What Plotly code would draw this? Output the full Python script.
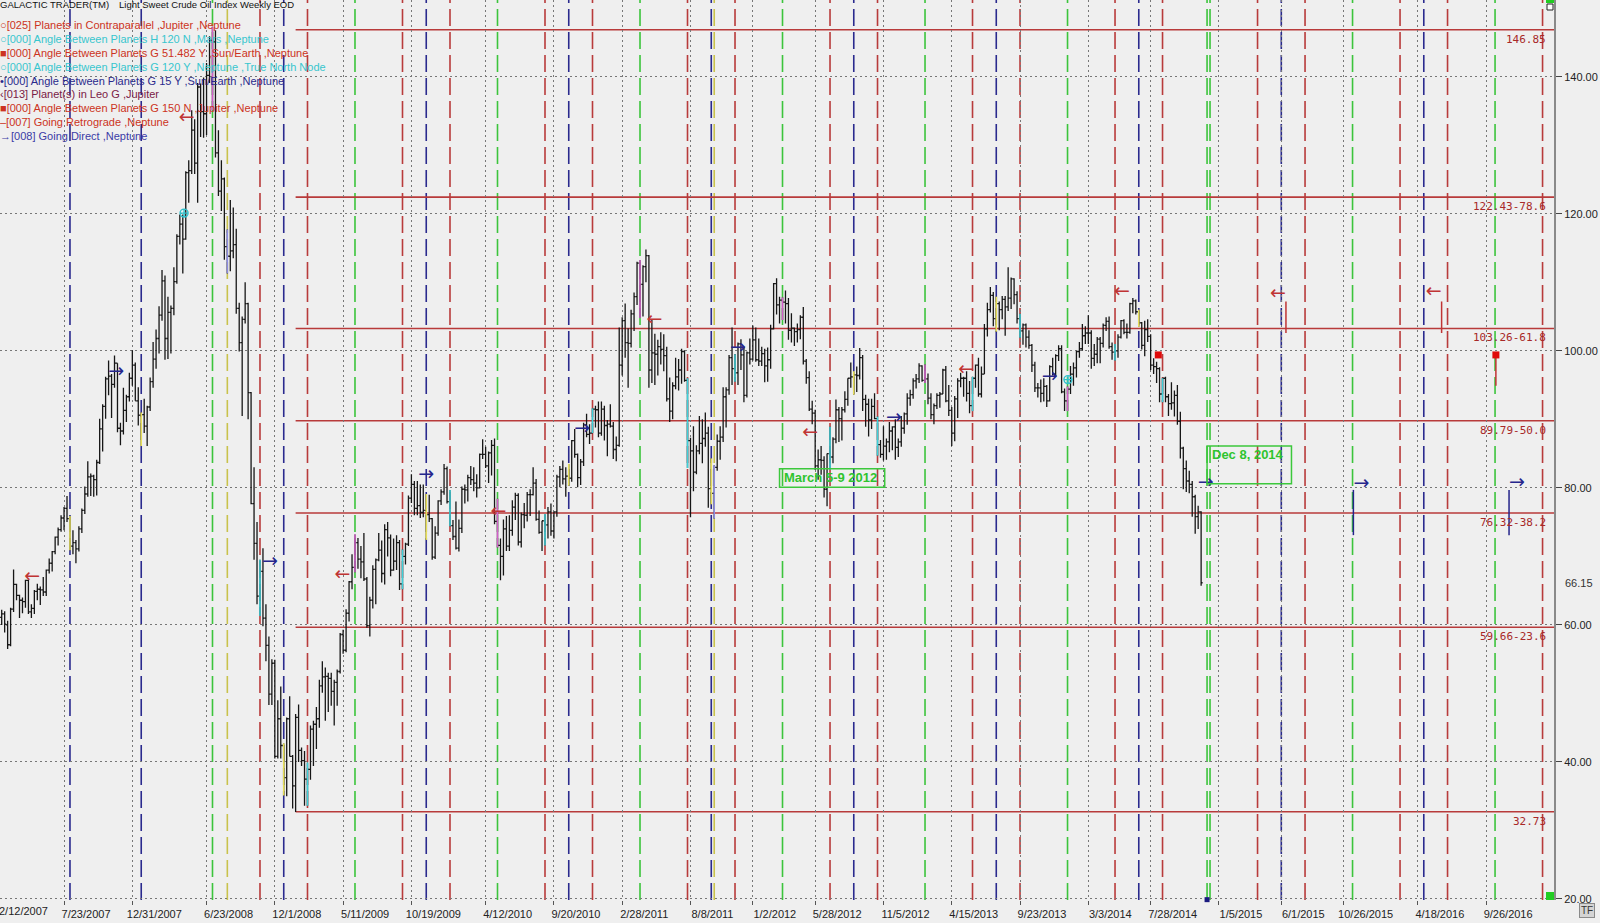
import pandas as pd
import plotly.graph_objects as go

# weekly bars, first week starts 2007-02-19
week_start = "2007-02-19"

opens = [
    59.4, 61.1, 61.6, 60.0, 57.1, 62.3, 65.9, 64.3, 63.6, 63.4, 66.5, 61.9, 62.4, 64.9, 65.2, 65.1, 64.8, 68.0, 69.0, 70.7, 72.8, 73.9, 75.6, 77.0, 75.5, 71.5, 72.0, 71.1, 74.0, 76.7, 79.1, 81.6, 81.7, 81.2, 83.7, 88.6, 91.9, 95.9, 96.3, 95.1, 98.2, 88.7, 88.3, 91.3, 93.3,
    96.0, 97.9, 92.7, 90.6, 90.7, 89.0, 91.8, 95.5, 98.8, 101.8, 105.2, 110.2, 101.8, 105.6, 106.2, 110.1, 116.7, 118.5, 116.3, 126.0, 126.3, 132.2, 127.4, 138.5, 134.9, 134.6, 140.2, 145.3, 145.1, 128.9, 123.3, 125.1, 115.2, 113.8, 114.6, 115.5, 106.2, 101.2, 104.6, 106.9, 93.9, 77.7, 71.9, 64.2, 67.8, 61.0, 57.0, 49.9, 54.4, 40.8, 46.3, 42.4,
    37.7, 46.3, 40.8, 36.5, 46.5, 41.7, 40.2, 37.5, 38.9, 44.8, 45.5, 46.3, 51.1, 52.4, 52.5, 52.2, 50.3, 51.6, 53.2, 58.6, 56.3, 61.7, 66.3, 68.4, 72.0, 69.6, 69.2, 66.7, 59.9, 63.6, 68.1, 69.5, 70.9, 67.5, 73.9, 72.7, 68.0, 69.3, 72.0, 66.0, 70.0, 71.8, 78.5, 80.5, 77.0, 77.4, 76.4, 76.7, 76.1, 75.5, 69.9, 73.4, 78.1,
    79.4, 82.8, 78.0, 74.5, 72.9, 71.2, 74.1, 79.8, 79.7, 81.5, 81.2, 80.7, 80.0, 84.9, 84.9, 83.2, 85.1, 86.2, 75.1, 71.6, 70.0, 74.0, 71.5, 73.8, 77.2, 78.9, 72.1, 76.1, 76.0, 79.0, 79.0, 80.7, 75.4, 73.5, 75.2, 74.6, 76.5, 73.7, 76.5, 81.6, 82.7, 81.3, 81.7, 81.4, 86.9, 84.9, 81.5, 83.8, 89.2, 87.8, 88.0, 91.5,
    91.4, 88.0, 91.5, 89.1, 89.3, 89.0, 85.6, 86.2, 97.9, 104.4, 101.2, 101.1, 105.4, 107.9, 112.8, 109.7, 112.3, 113.9, 97.2, 99.7, 99.5, 100.6, 100.2, 99.3, 93.0, 91.2, 94.9, 96.2, 97.2, 99.9, 95.7, 86.9, 85.4, 82.3, 85.4, 86.5, 87.2, 88.0, 79.9, 79.2, 83.0, 86.8, 87.4, 93.3, 94.3, 99.0, 97.4, 96.8, 101.0, 99.4, 93.5, 99.7,
    98.8, 101.6, 98.7, 98.5, 99.6, 97.8, 98.7, 103.2, 109.8, 106.7, 107.4, 107.1, 106.9, 103.0, 103.3, 102.8, 103.1, 104.9, 98.5, 96.1, 91.5, 90.9, 83.2, 84.1, 84.0, 79.8, 85.0, 84.5, 87.1, 91.4, 90.1, 91.4, 92.9, 96.0, 96.2, 96.5, 96.4, 99.0, 92.9, 92.2, 89.9, 91.9, 90.1, 86.3, 84.9, 86.1, 86.7, 88.3, 88.9, 85.9, 86.7, 88.7,
    90.8, 93.1, 93.6, 95.6, 95.9, 97.8, 95.7, 95.9, 93.1, 90.7, 92.0, 93.5, 93.7, 97.2, 92.7, 91.3, 88.0, 93.0, 95.6, 96.0, 96.0, 93.8, 92.0, 96.0, 97.9, 93.7, 96.6, 103.2, 106.0, 108.1, 104.7, 106.9, 106.0, 107.5, 106.4, 107.7, 110.5, 108.2, 104.7, 102.9, 103.8, 102.0, 100.8, 97.9, 94.6, 94.6, 93.8, 94.8, 92.7, 97.7, 96.6, 99.3,
    100.3, 94.0, 92.7, 94.4, 96.6, 97.5, 99.9, 100.3, 102.2, 102.6, 102.6, 98.9, 99.5, 101.7, 101.1, 103.7, 104.3, 100.6, 99.8, 100.0, 102.0, 104.4, 102.7, 102.7, 106.9, 107.3, 105.7, 104.1, 100.8, 103.1, 102.1, 97.9, 97.7, 97.4, 93.7, 96.0, 93.3, 92.3, 92.4, 93.5, 89.7, 85.8, 82.8, 81.0, 80.5, 78.7, 75.8, 76.5,
]
highs = [
    61.7, 62.2, 62.0, 60.6, 62.5, 68.1, 66.0, 64.4, 64.0, 66.6, 66.6, 63.0, 65.1, 66.0, 65.6, 67.0, 68.1, 69.7, 70.8, 72.9, 74.2, 76.0, 77.2, 78.8, 75.9, 73.8, 72.4, 74.4, 77.0, 80.2, 83.9, 82.1, 81.9, 84.1, 90.1, 92.2, 96.2, 98.6, 96.6, 99.3, 98.2, 89.5, 94.6, 93.6, 96.8,
    100.1, 98.3, 94.7, 91.0, 93.0, 92.0, 96.1, 101.3, 103.1, 106.5, 111.8, 111.0, 107.9, 106.6, 112.2, 117.0, 119.9, 119.9, 126.2, 127.8, 135.1, 133.8, 139.1, 139.0, 139.9, 142.0, 145.9, 147.3, 146.8, 132.2, 127.8, 125.3, 117.7, 122.0, 120.9, 117.8, 107.0, 105.0, 110.0, 107.0, 94.0, 83.0, 75.0, 69.5, 71.2, 63.0, 58.3, 55.0, 54.9, 49.0, 51.0, 42.7,
    46.5, 49.6, 41.0, 47.0, 48.4, 42.1, 41.6, 39.9, 45.3, 46.0, 48.0, 52.0, 54.7, 53.8, 53.0, 53.0, 52.0, 53.5, 58.8, 59.3, 62.3, 66.4, 70.3, 73.2, 72.7, 71.5, 73.4, 67.0, 64.1, 68.7, 69.7, 73.4, 72.3, 74.7, 75.0, 73.2, 72.6, 73.1, 72.4, 71.0, 72.0, 78.9, 82.0, 81.0, 81.0, 80.5, 80.5, 79.1, 79.0, 75.6, 74.4, 78.2, 79.8,
    83.5, 83.1, 79.7, 75.3, 78.0, 75.4, 80.2, 80.5, 81.9, 83.2, 83.0, 82.0, 85.0, 87.1, 86.0, 85.3, 87.0, 87.2, 78.4, 72.6, 75.4, 75.9, 76.0, 78.2, 79.3, 79.2, 76.4, 77.8, 79.4, 79.8, 83.0, 81.3, 76.7, 75.2, 76.2, 77.2, 77.7, 76.5, 81.9, 83.2, 84.0, 83.0, 83.5, 87.0, 88.6, 85.0, 84.2, 89.5, 90.8, 89.3, 91.6, 92.0,
    92.6, 92.6, 92.0, 89.9, 92.2, 89.6, 87.5, 103.4, 104.9, 106.9, 103.3, 106.0, 108.5, 113.0, 113.2, 112.5, 114.8, 114.0, 104.6, 102.5, 101.6, 102.7, 102.4, 100.6, 96.1, 95.4, 99.0, 98.8, 100.3, 100.1, 96.0, 87.3, 89.0, 86.2, 90.5, 90.0, 91.0, 88.9, 84.3, 83.3, 87.8, 89.0, 94.7, 94.7, 99.4, 103.4, 99.5, 101.2, 101.7, 100.6, 99.9, 101.8,
    103.7, 103.4, 101.8, 100.6, 100.3, 100.5, 103.8, 109.9, 110.6, 107.9, 107.8, 108.8, 107.7, 105.5, 103.4, 104.0, 105.2, 106.4, 98.8, 97.0, 92.7, 91.4, 85.6, 86.1, 84.6, 85.0, 88.9, 87.4, 92.9, 91.8, 91.8, 94.1, 96.0, 98.3, 97.0, 97.7, 100.4, 99.4, 93.6, 93.0, 93.0, 93.8, 90.4, 87.0, 89.0, 87.2, 89.6, 89.0, 90.0, 87.2, 90.5, 91.0,
    93.8, 94.3, 96.0, 96.6, 98.2, 97.9, 98.0, 96.7, 93.8, 92.3, 93.8, 94.0, 97.4, 97.8, 95.0, 91.8, 93.4, 96.0, 96.8, 96.2, 97.0, 95.6, 96.2, 98.0, 99.0, 97.7, 103.9, 107.0, 109.3, 108.6, 107.9, 107.2, 108.0, 108.0, 112.2, 110.7, 110.6, 108.7, 105.4, 104.0, 104.0, 103.0, 101.0, 98.4, 95.3, 95.8, 96.0, 95.0, 97.9, 99.0, 99.5, 100.8,
    100.8, 94.5, 94.8, 97.8, 98.3, 100.0, 101.3, 103.9, 103.6, 105.2, 103.0, 101.0, 102.0, 102.0, 104.0, 104.9, 105.0, 101.2, 101.0, 102.4, 104.5, 104.6, 104.0, 107.0, 107.7, 107.5, 106.0, 104.2, 104.4, 104.6, 102.4, 98.9, 98.4, 97.6, 96.0, 96.2, 93.7, 95.4, 94.2, 95.0, 91.1, 86.0, 84.0, 82.5, 81.0, 79.0, 77.4, 76.6,
]
lows = [
    57.8, 60.0, 58.9, 56.5, 56.9, 61.9, 63.6, 61.0, 61.7, 62.5, 61.6, 61.0, 61.6, 63.6, 62.9, 64.2, 64.2, 67.5, 67.8, 70.3, 71.6, 73.6, 73.8, 75.0, 70.9, 70.3, 69.0, 70.7, 73.4, 76.2, 78.7, 78.8, 78.7, 78.9, 83.5, 85.3, 90.1, 93.5, 90.2, 94.6, 88.1, 86.2, 87.8, 89.6, 92.6,
    94.9, 92.7, 89.1, 86.1, 88.0, 86.1, 91.2, 94.6, 97.4, 99.6, 104.4, 98.7, 98.8, 99.6, 105.2, 109.8, 115.5, 111.3, 116.2, 121.6, 125.8, 125.8, 121.6, 131.2, 131.1, 131.5, 139.1, 135.1, 128.2, 122.6, 120.4, 113.3, 111.3, 111.6, 113.5, 105.4, 99.9, 90.5, 104.0, 90.0, 77.6, 69.5, 63.0, 61.3, 59.8, 54.7, 48.3, 48.3, 40.5, 40.5, 40.5, 35.1,
    35.0, 40.8, 33.2, 32.7, 40.0, 39.4, 33.6, 33.6, 37.4, 39.4, 41.9, 45.0, 50.1, 46.0, 47.3, 48.2, 45.3, 48.2, 52.9, 55.8, 56.0, 60.5, 65.2, 67.7, 68.2, 66.8, 66.4, 59.6, 58.3, 62.4, 63.0, 69.3, 66.2, 65.9, 70.0, 67.1, 67.9, 68.0, 65.1, 65.2, 68.8, 71.5, 77.8, 76.0, 76.0, 75.6, 75.7, 72.4, 75.0, 69.5, 69.6, 73.0, 77.5,
    79.0, 77.7, 74.4, 72.4, 71.0, 70.7, 73.4, 77.7, 78.0, 80.4, 79.5, 78.6, 79.9, 84.2, 82.9, 80.7, 81.8, 74.7, 71.3, 66.5, 67.2, 70.8, 70.8, 73.0, 75.3, 71.6, 71.3, 74.1, 75.1, 75.9, 78.9, 75.2, 73.3, 70.8, 71.6, 72.6, 73.0, 72.6, 75.8, 80.1, 80.5, 78.7, 80.3, 80.9, 84.4, 80.1, 80.4, 83.2, 87.4, 86.4, 88.0, 88.8,
    87.4, 87.6, 86.9, 84.6, 88.8, 84.2, 83.9, 86.0, 96.4, 99.0, 94.6, 100.5, 102.9, 106.7, 104.8, 105.0, 110.0, 94.6, 95.3, 95.0, 96.4, 98.0, 97.0, 92.6, 89.6, 90.0, 94.4, 94.2, 95.2, 95.5, 82.9, 75.7, 79.5, 82.0, 84.9, 83.6, 86.0, 77.1, 77.6, 75.5, 82.5, 84.1, 86.7, 88.8, 93.6, 95.0, 95.5, 95.0, 97.2, 92.5, 93.2, 98.0,
    98.6, 98.4, 97.8, 97.8, 95.4, 95.5, 97.4, 103.1, 105.3, 104.0, 104.5, 104.0, 101.6, 101.2, 100.7, 101.2, 101.7, 98.0, 95.2, 91.2, 89.3, 82.6, 81.2, 81.9, 78.6, 77.3, 82.6, 83.6, 86.5, 86.7, 86.9, 91.0, 92.0, 94.6, 93.6, 94.0, 95.8, 91.2, 88.9, 87.5, 88.6, 90.0, 84.7, 84.4, 84.0, 84.1, 85.2, 85.5, 84.1, 84.5, 86.0, 87.9,
    89.2, 92.0, 93.0, 94.5, 95.3, 95.5, 95.3, 92.2, 90.0, 89.3, 91.5, 91.7, 93.7, 92.5, 90.5, 86.1, 86.8, 90.2, 94.7, 93.3, 92.6, 90.9, 91.2, 94.6, 93.3, 93.2, 96.6, 102.1, 105.6, 103.6, 102.8, 103.0, 104.6, 102.2, 105.8, 106.1, 106.8, 104.0, 101.9, 100.9, 100.5, 100.3, 96.9, 94.0, 93.2, 92.5, 92.6, 91.8, 92.6, 96.4, 96.2, 98.5,
    93.8, 91.2, 91.2, 93.7, 94.9, 96.1, 99.0, 100.0, 101.0, 101.0, 97.4, 97.8, 98.2, 98.2, 100.5, 102.9, 100.3, 98.7, 98.6, 99.0, 101.8, 102.4, 101.8, 102.5, 105.5, 105.3, 103.5, 100.2, 99.2, 101.3, 97.2, 96.6, 95.3, 92.5, 92.5, 92.5, 90.5, 91.4, 90.4, 89.2, 84.3, 79.8, 79.4, 79.2, 75.8, 73.3, 74.0, 65.7,
]
closes = [
    61.1, 61.6, 60.1, 57.1, 62.3, 65.9, 64.3, 63.6, 63.4, 66.5, 61.9, 62.4, 64.9, 65.2, 65.1, 64.8, 68.0, 69.0, 70.7, 72.8, 73.9, 75.6, 77.0, 75.5, 71.5, 72.0, 71.1, 74.0, 76.7, 79.1, 81.6, 81.7, 81.2, 83.7, 88.6, 91.9, 95.9, 96.3, 95.1, 98.2, 88.7, 88.3, 91.3, 93.3, 96.0,
    97.9, 92.7, 90.6, 90.7, 89.0, 91.8, 95.5, 98.8, 101.8, 105.2, 110.2, 101.8, 105.6, 106.2, 110.1, 116.7, 118.5, 116.3, 126.0, 126.3, 132.2, 127.4, 138.5, 134.9, 134.6, 140.2, 145.3, 145.1, 128.9, 123.3, 125.1, 115.2, 113.8, 114.6, 115.5, 106.2, 101.2, 104.6, 106.9, 93.9, 77.7, 71.9, 64.2, 67.8, 61.0, 57.0, 49.9, 54.4, 40.8, 46.3, 42.4, 37.7,
    46.3, 40.8, 36.5, 46.5, 41.7, 40.2, 37.5, 38.9, 44.8, 45.5, 46.3, 51.1, 52.4, 52.5, 52.2, 50.3, 51.6, 53.2, 58.6, 56.3, 61.7, 66.3, 68.4, 72.0, 69.6, 69.2, 66.7, 59.9, 63.6, 68.1, 69.5, 70.9, 67.5, 73.9, 72.7, 68.0, 69.3, 72.0, 66.0, 70.0, 71.8, 78.5, 80.5, 77.0, 77.4, 76.4, 76.7, 76.1, 75.5, 69.9, 73.4, 78.1, 79.4,
    82.8, 78.0, 74.5, 72.9, 71.2, 74.1, 79.8, 79.7, 81.5, 81.2, 80.7, 80.0, 84.9, 84.9, 83.2, 85.1, 86.2, 75.1, 71.6, 70.0, 74.0, 71.5, 73.8, 77.2, 78.9, 72.1, 76.1, 76.0, 79.0, 79.0, 80.7, 75.4, 73.5, 75.2, 74.6, 76.5, 73.7, 76.5, 81.6, 82.7, 81.3, 81.7, 81.4, 86.9, 84.9, 81.5, 83.8, 89.2, 87.8, 88.0, 91.5, 91.4,
    88.0, 91.5, 89.1, 89.3, 89.0, 85.6, 86.2, 97.9, 104.4, 101.2, 101.1, 105.4, 107.9, 112.8, 109.7, 112.3, 113.9, 97.2, 99.7, 99.5, 100.6, 100.2, 99.3, 93.0, 91.2, 94.9, 96.2, 97.2, 99.9, 95.7, 86.9, 85.4, 82.3, 85.4, 86.5, 87.2, 88.0, 79.9, 79.2, 83.0, 86.8, 87.4, 93.3, 94.3, 99.0, 97.4, 96.8, 101.0, 99.4, 93.5, 99.7, 98.8,
    101.6, 98.7, 98.5, 99.6, 97.8, 98.7, 103.2, 109.8, 106.7, 107.4, 107.1, 106.9, 103.0, 103.3, 102.8, 103.1, 104.9, 98.5, 96.1, 91.5, 90.9, 83.2, 84.1, 84.0, 79.8, 85.0, 84.5, 87.1, 91.4, 90.1, 91.4, 92.9, 96.0, 96.2, 96.5, 96.4, 99.0, 92.9, 92.2, 89.9, 91.9, 90.1, 86.3, 84.9, 86.1, 86.7, 88.3, 88.9, 85.9, 86.7, 88.7, 90.8,
    93.1, 93.6, 95.6, 95.9, 97.8, 95.7, 95.9, 93.1, 90.7, 92.0, 93.5, 93.7, 97.2, 92.7, 91.3, 88.0, 93.0, 95.6, 96.0, 96.0, 93.8, 92.0, 96.0, 97.9, 93.7, 96.6, 103.2, 106.0, 108.1, 104.7, 106.9, 106.0, 107.5, 106.4, 107.7, 110.5, 108.2, 104.7, 102.9, 103.8, 102.0, 100.8, 97.9, 94.6, 94.6, 93.8, 94.8, 92.7, 97.7, 96.6, 99.3, 100.3,
    94.0, 92.7, 94.4, 96.6, 97.5, 99.9, 100.3, 102.2, 102.6, 102.6, 98.9, 99.5, 101.7, 101.1, 103.7, 104.3, 100.6, 99.8, 100.0, 102.0, 104.4, 102.7, 102.7, 106.9, 107.3, 105.7, 104.1, 100.8, 103.1, 102.1, 97.9, 97.7, 97.4, 93.7, 96.0, 93.3, 92.3, 92.4, 93.5, 89.7, 85.8, 82.8, 81.0, 80.5, 78.7, 75.8, 76.5, 66.15,
]

# retracement levels (low 32.73 -> high 146.85)
level_values = [146.85, 122.43, 103.26, 89.79, 76.32, 59.66, 32.73]
level_labels = ["146.85", "122.43-78.6", "103.26-61.8", "89.79-50.0", "76.32-38.2", "59.66-23.6", "32.73"]
level_start = "2009-01-19"

# planetary event lines
event_dates = [
    "2007-08-06", "2008-01-21", "2008-07-07", "2008-08-11", "2008-10-27", "2008-12-22", "2009-02-16",
    "2009-06-08", "2009-09-28", "2009-11-23", "2010-01-18", "2010-05-10", "2010-08-30", "2010-10-25",
    "2010-12-20", "2011-04-11", "2011-08-01", "2011-09-26", "2011-10-03", "2011-11-21", "2012-03-12",
    "2012-07-02", "2012-08-27", "2012-10-22", "2013-02-11", "2013-06-03", "2013-07-29", "2013-09-23",
    "2014-01-13", "2014-05-05", "2014-06-30", "2014-08-25", "2014-12-08", "2014-12-15", "2015-04-06",
    "2015-06-01", "2015-07-27", "2015-11-16", "2016-03-07", "2016-05-02", "2016-06-27", "2016-10-17",
    "2017-02-06",
]
event_kinds = [
    "blue", "blue", "green", "yellow", "red", "blue", "red",
    "green", "red", "blue", "red", "green", "red", "blue",
    "red", "green", "red", "blue", "yellow", "red", "green",
    "red", "blue", "red", "green", "red", "blue", "red",
    "green", "red", "blue", "red", "green", "green", "red",
    "blue", "red", "green", "red", "blue", "red", "green",
    "red",
]

# Neptune stations: retrograde (red arrow) and direct (blue arrow)
retro_dates = ["2007-05-28", "2008-05-26", "2009-05-28", "2010-05-31", "2011-06-03", "2012-06-04",
               "2013-06-07", "2014-06-09", "2015-06-12", "2016-06-13"]
retro_values = [67.0, 133.9, 67.3, 76.4, 104.4, 87.9, 97.2, 108.5, 108.3, 108.5]
direct_dates = ["2007-11-04", "2008-11-01", "2009-11-04", "2010-11-07", "2011-11-09", "2012-11-11",
                "2013-11-13", "2014-11-16", "2015-11-18", "2016-11-19"]
direct_values = [96.9, 69.2, 81.9, 88.5, 100.4, 90.2, 96.1, 80.7, 80.6, 80.7]

# projected marks past the last bar
proj_dates = ["2015-06-12", "2015-11-18", "2016-06-13", "2016-10-19", "2016-11-19"]
proj_tops = [107.2, 79.7, 107.2, 99.1, 79.7]
proj_bottoms = [102.6, 73.1, 102.6, 94.9, 73.1]
proj_kinds = ["red", "blue", "red", "red", "blue"]

square_dates = ["2014-08-15", "2016-10-19"]
square_values = [99.4, 99.4]
circle_dates = ["2008-05-01", "2014-01-14"]
circle_values = [120.1, 95.8]

tick_dates = ["2007-07-23", "2007-12-31", "2008-06-23", "2008-12-01", "2009-05-11", "2009-10-19",
              "2010-04-12", "2010-09-20", "2011-02-28", "2011-08-08", "2012-01-02", "2012-05-28",
              "2012-11-05", "2013-04-15", "2013-09-23", "2014-03-03", "2014-07-28", "2015-01-05",
              "2015-06-01", "2015-10-26", "2016-04-18", "2016-09-26"]
tick_labels = ["7/23/2007", "12/31/2007", "6/23/2008", "12/1/2008", "5/11/2009", "10/19/2009",
               "4/12/2010", "9/20/2010", "2/28/2011", "8/8/2011", "1/2/2012", "5/28/2012",
               "11/5/2012", "4/15/2013", "9/23/2013", "3/3/2014", "7/28/2014", "1/5/2015",
               "6/1/2015", "10/26/2015", "4/18/2016", "9/26/2016"]

legend_lines = [
    "\u25cb[025] Planets in Contraparallel ,Jupiter ,Neptune",
    "\u25cb[000] Angle Between Planets H 120 N ,Mars ,Neptune",
    "\u25a0[000] Angle Between Planets G 51.482 Y ,Sun/Earth ,Neptune",
    "\u25cb[000] Angle Between Planets G 120 Y ,Neptune ,True North Node",
    "\u2022[000] Angle Between Planets G 15 Y ,Sun/Earth ,Neptune",
    "\u2039[013] Planet(s) in Leo G ,Jupiter",
    "\u25a0[000] Angle Between Planets G 150 N ,Jupiter ,Neptune",
    "\u2013[007] Going Retrograde ,Neptune",
    "\u2192[008] Going Direct ,Neptune",
]
legend_colors = ["#CC3322", "#38C6CE", "#CC3322", "#38C6CE", "#2A2A8C",
                 "#7A2046", "#CC3322", "#CC3322", "#3B3BA6"]

line_colors = {"red": "#B83B3B", "green": "#3CC43C", "blue": "#2A2A8E", "yellow": "#C9C24C"}
bar_colors = {"red": "#3ECFD8", "green": "#D060C8", "blue": "#E6DE5A", "yellow": "#8C8CE0"}

BG = "#EFEFEF"
dates = pd.date_range(week_start, periods=len(closes), freq="W-MON")

fig = go.Figure()

fig.add_trace(go.Ohlc(
    x=dates, open=opens, high=highs, low=lows, close=closes,
    increasing=dict(line=dict(color="#161616", width=1.3)),
    decreasing=dict(line=dict(color="#161616", width=1.3)),
    tickwidth=0.5, hoverinfo="skip", showlegend=False,
))

# bars that sit on an event line take the complementary colour
for kind in ["red", "green", "blue", "yellow"]:
    xs, ys = [], []
    for d, k in zip(event_dates, event_kinds):
        ts = pd.Timestamp(d)
        if k == kind and ts in dates:
            i = dates.get_loc(ts)
            xs += [ts, ts, None]
            ys += [lows[i], highs[i], None]
    if xs:
        fig.add_trace(go.Scatter(x=xs, y=ys, mode="lines", line=dict(color=bar_colors[kind], width=1.6),
                                 hoverinfo="skip", showlegend=False))

for d, k in zip(event_dates, event_kinds):
    fig.add_vline(x=d, line=dict(color=line_colors[k], width=1.6, dash="17px,6px"), layer="below")

x_end = "2017-03-05"
for v in level_values:
    fig.add_shape(type="line", x0=level_start, x1=x_end, y0=v, y1=v, xref="x", yref="y",
                  line=dict(color="#B83A3A", width=1.6), layer="below")
for v, lab in zip(level_values, level_labels):
    fig.add_annotation(x=1, xref="paper", y=v, yref="y", text=lab, showarrow=False,
                       xanchor="right", yanchor="top", xshift=-6, yshift=-1,
                       font=dict(family="DejaVu Sans Mono", size=11, color="#A82828"))

# projected segments
for kind in ["red", "blue"]:
    xs, ys = [], []
    for d, t, b, k in zip(proj_dates, proj_tops, proj_bottoms, proj_kinds):
        if k == kind:
            xs += [d, d, None]
            ys += [b, t, None]
    fig.add_trace(go.Scatter(x=xs, y=ys, mode="lines",
                             line=dict(color="#C03434" if kind == "red" else "#24248A", width=1.5),
                             hoverinfo="skip", showlegend=False))

fig.add_trace(go.Scatter(x=retro_dates, y=retro_values, mode="text", text=["\u2190"] * len(retro_dates),
                         textposition="middle left", textfont=dict(family="DejaVu Sans", size=19, color="#C03434"),
                         hoverinfo="skip", showlegend=False))
fig.add_trace(go.Scatter(x=direct_dates, y=direct_values, mode="text", text=["\u2192"] * len(direct_dates),
                         textposition="middle right", textfont=dict(family="DejaVu Sans", size=19, color="#26268C"),
                         hoverinfo="skip", showlegend=False))
fig.add_trace(go.Scatter(x=square_dates, y=square_values, mode="markers",
                         marker=dict(symbol="square", size=7, color="#E00A0A"),
                         hoverinfo="skip", showlegend=False))
fig.add_trace(go.Scatter(x=circle_dates, y=circle_values, mode="markers",
                         marker=dict(symbol="circle-cross-open", size=8, color="#30C0CC", line=dict(width=1.4)),
                         hoverinfo="skip", showlegend=False))
fig.add_trace(go.Scatter(x=["2014-12-08"], y=[19.9], mode="markers", cliponaxis=False,
                         marker=dict(symbol="square", size=5, color="#1A1A80"),
                         hoverinfo="skip", showlegend=False))

# date boxes
fig.add_shape(type="rect", x0="2012-03-05", x1="2012-11-08", y0=80.1, y1=82.8,
              line=dict(color="#3CC83C", width=1.5))
fig.add_annotation(x="2012-03-05", y=81.45, text="<b>March 5-9 2012</b>", showarrow=False,
                   xanchor="left", yanchor="middle", xshift=2,
                   font=dict(family="Arial", size=13, color="#2EC42E"))
fig.add_shape(type="rect", x0="2014-12-08", x1="2015-06-25", y0=80.6, y1=86.1,
              line=dict(color="#3CC83C", width=1.5))
fig.add_annotation(x="2014-12-08", y=84.8, text="<b>Dec 8, 2014</b>", showarrow=False,
                   xanchor="left", yanchor="middle", xshift=3,
                   font=dict(family="Arial", size=13, color="#2EC42E"))

# header and event legend
fig.add_annotation(x=0, y=1 - 4 / 900, xref="paper", yref="paper", text="GALACTIC TRADER(TM)",
                   showarrow=False, xanchor="left", yanchor="middle", xshift=-2,
                   font=dict(family="Arial", size=9.5, color="#111111"))
fig.add_annotation(x=117 / 1554, y=1 - 4 / 900, xref="paper", yref="paper",
                   text="Light Sweet Crude Oil Index Weekly EOD",
                   showarrow=False, xanchor="left", yanchor="middle",
                   font=dict(family="Arial", size=9.5, color="#111111"))
for i, (txt, col) in enumerate(zip(legend_lines, legend_colors)):
    fig.add_annotation(x=0, y=1 - (25 + i * 13.9) / 900, xref="paper", yref="paper", text=txt,
                       showarrow=False, xanchor="left", yanchor="middle", xshift=-2,
                       font=dict(family="Arial", size=11, color=col))

# right side extras
fig.add_annotation(x=1, xref="paper", y=66.15, yref="y", text="66.15", showarrow=False,
                   xanchor="left", yanchor="middle", xshift=9,
                   font=dict(family="Arial", size=11, color="#333333"))
fig.add_annotation(x=0, xref="paper", y=0, yref="paper", text="2/12/2007", showarrow=False,
                   xanchor="left", yanchor="top", xshift=-3, yshift=-3,
                   font=dict(family="Arial", size=11, color="#222222"))
fig.add_annotation(x=1587 / 1554, xref="paper", y=-10 / 900, yref="paper", text="TF", showarrow=False,
                   xanchor="center", yanchor="middle", bgcolor="#D4D4D4", bordercolor="#8A8A8A",
                   borderwidth=1, borderpad=1, font=dict(family="Arial", size=10, color="#333333"))
fig.add_shape(type="rect", xref="paper", yref="paper", x0=1546 / 1554, x1=1, y0=0, y1=8 / 900,
              fillcolor="#22CC22", line=dict(width=0))
fig.add_shape(type="rect", xref="paper", yref="paper", x0=1546 / 1554, x1=1, y0=1 - 3 / 900, y1=1,
              fillcolor="#22CC22", line=dict(width=0))
fig.add_shape(type="rect", xref="paper", yref="paper", x0=1547 / 1554, x1=1553 / 1554,
              y0=1 - 10 / 900, y1=1 - 4 / 900, fillcolor="#FFFFFF", line=dict(color="#222222", width=1))

grid_dash = "2px,3px"
fig.update_xaxes(
    type="date", range=["2007-02-22", x_end], tickvals=tick_dates, ticktext=tick_labels,
    showgrid=True, gridcolor="#777777", griddash=grid_dash, gridwidth=1,
    ticks="outside", ticklen=4, tickcolor="#555555", ticklabelshift=22,
    tickfont=dict(family="Arial", size=11, color="#222222"),
    showline=False, zeroline=False, rangeslider=dict(visible=False),
)
fig.update_yaxes(
    side="right", range=[19.85, 151.2],
    tickvals=[20, 40, 60, 80, 100, 120, 140],
    ticktext=["20.00", "40.00", "60.00", "80.00", "100.00", "120.00", "140.00"],
    showgrid=True, gridcolor="#777777", griddash=grid_dash, gridwidth=1,
    ticks="outside", ticklen=6, tickcolor="#444444",
    tickfont=dict(family="Arial", size=11, color="#222222"),
    showline=True, linecolor="#8A8A8A", linewidth=2, zeroline=False,
)
fig.update_layout(
    width=1600, height=923,
    margin=dict(l=0, r=46, t=0, b=23),
    paper_bgcolor=BG, plot_bgcolor=BG,
    showlegend=False, hovermode=False,
    font=dict(family="Arial", color="#222222"),
)

fig.write_html("out.html", config={"displayModeBar": False},
               post_script="document.body.style.margin='0';")
